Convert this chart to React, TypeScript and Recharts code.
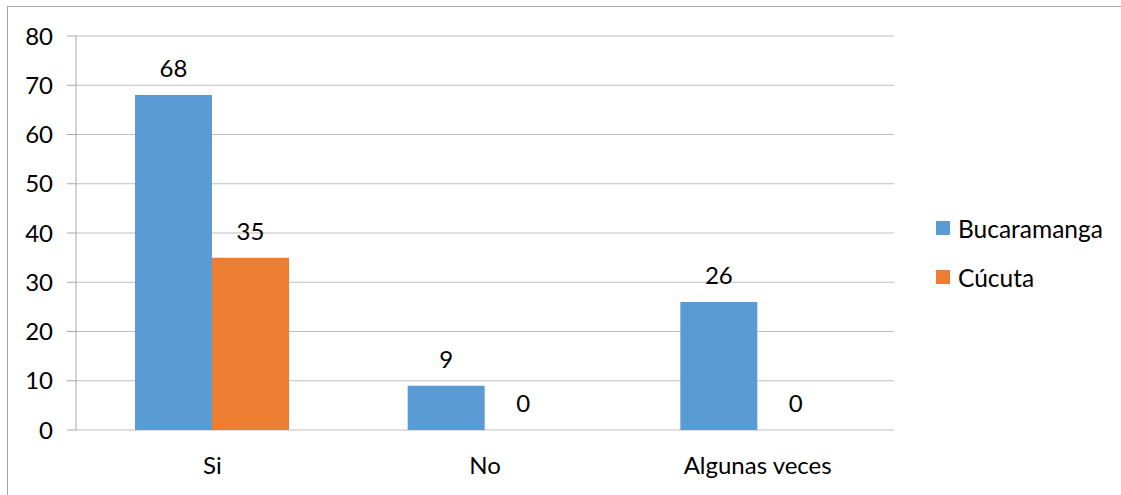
import { Bar, BarChart, CartesianGrid, LabelList, XAxis, YAxis } from 'recharts';

const categories = ['Si', 'No', 'Algunas veces'];
const bucaramanga = [68, 9, 26];
const cucuta = [35, 0, 0];
const yTicks = [0, 10, 20, 30, 40, 50, 60, 70, 80];
// category boundaries, where the x-axis tick marks sit
const edgeTicks = [0, 1, 2, 3];

const seriesColors = { Bucaramanga: '#5b9bd5', 'Cúcuta': '#ed7d31' };

const data = categories.map((name, i) => ({
  name,
  Bucaramanga: bucaramanga[i],
  'Cúcuta': cucuta[i],
}));

const font = 'Lato, "Open Sans", sans-serif';
const fontSize = 24;

function ChartLegend() {
  return (
    <div style={{ position: 'absolute', left: 936, top: 214, fontFamily: font, fontSize: 24.5, color: '#000' }}>
      {Object.entries(seriesColors).map(([label, color], i) => (
        <div key={label} style={{ display: 'flex', alignItems: 'center', height: 28, marginTop: i === 0 ? 0 : 21 }}>
          <span style={{ width: 14, height: 14, background: color, display: 'inline-block', marginRight: 8 }} />
          <span>{label}</span>
        </div>
      ))}
    </div>
  );
}

export default function App() {
  return (
    <div style={{ position: 'absolute', left: 0, top: 0, width: 1121, height: 495, background: '#fff', overflow: 'hidden' }}>
      <div
        style={{
          position: 'absolute',
          left: 7,
          top: 6,
          width: 1200,
          height: 600,
          borderLeft: '1.5px solid #a6a6a6',
          borderTop: '1.5px solid #a6a6a6',
        }}
      />
      <div style={{ position: 'absolute', left: 0, top: 0 }}>
        <BarChart
          width={1121}
          height={495}
          data={data}
          margin={{ top: 36, right: 227, bottom: 0, left: 0 }}
          barCategoryGap={59}
          barGap={0}
        >
          <CartesianGrid stroke="#bfbfbf" vertical={false} />
          <XAxis
            xAxisId="edges"
            type="number"
            domain={[0, 3]}
            ticks={edgeTicks}
            height={0}
            stroke="#a6a6a6"
            tickSize={8}
            tick={false}
          />
          <XAxis
            dataKey="name"
            axisLine={false}
            tickLine={false}
            height={65}
            tickSize={8}
            tickMargin={19}
            tick={{ fill: '#000', fontSize, fontFamily: font }}
            interval={0}
          />
          <YAxis
            domain={[0, 80]}
            ticks={yTicks}
            stroke="#a6a6a6"
            width={76}
            tickSize={9}
            tickMargin={14}
            tick={{ fill: '#000', fontSize, fontFamily: font }}
          />
          <Bar dataKey="Bucaramanga" fill={seriesColors.Bucaramanga} minPointSize={0.01} isAnimationActive={false}>
            <LabelList dataKey="Bucaramanga" position="top" offset={18} fill="#000" fontSize={fontSize} fontFamily={font} />
          </Bar>
          <Bar dataKey="Cúcuta" fill={seriesColors['Cúcuta']} minPointSize={0.01} isAnimationActive={false}>
            <LabelList dataKey="Cúcuta" position="top" offset={18} fill="#000" fontSize={fontSize} fontFamily={font} />
          </Bar>
        </BarChart>
      </div>
      <ChartLegend />
    </div>
  );
}
